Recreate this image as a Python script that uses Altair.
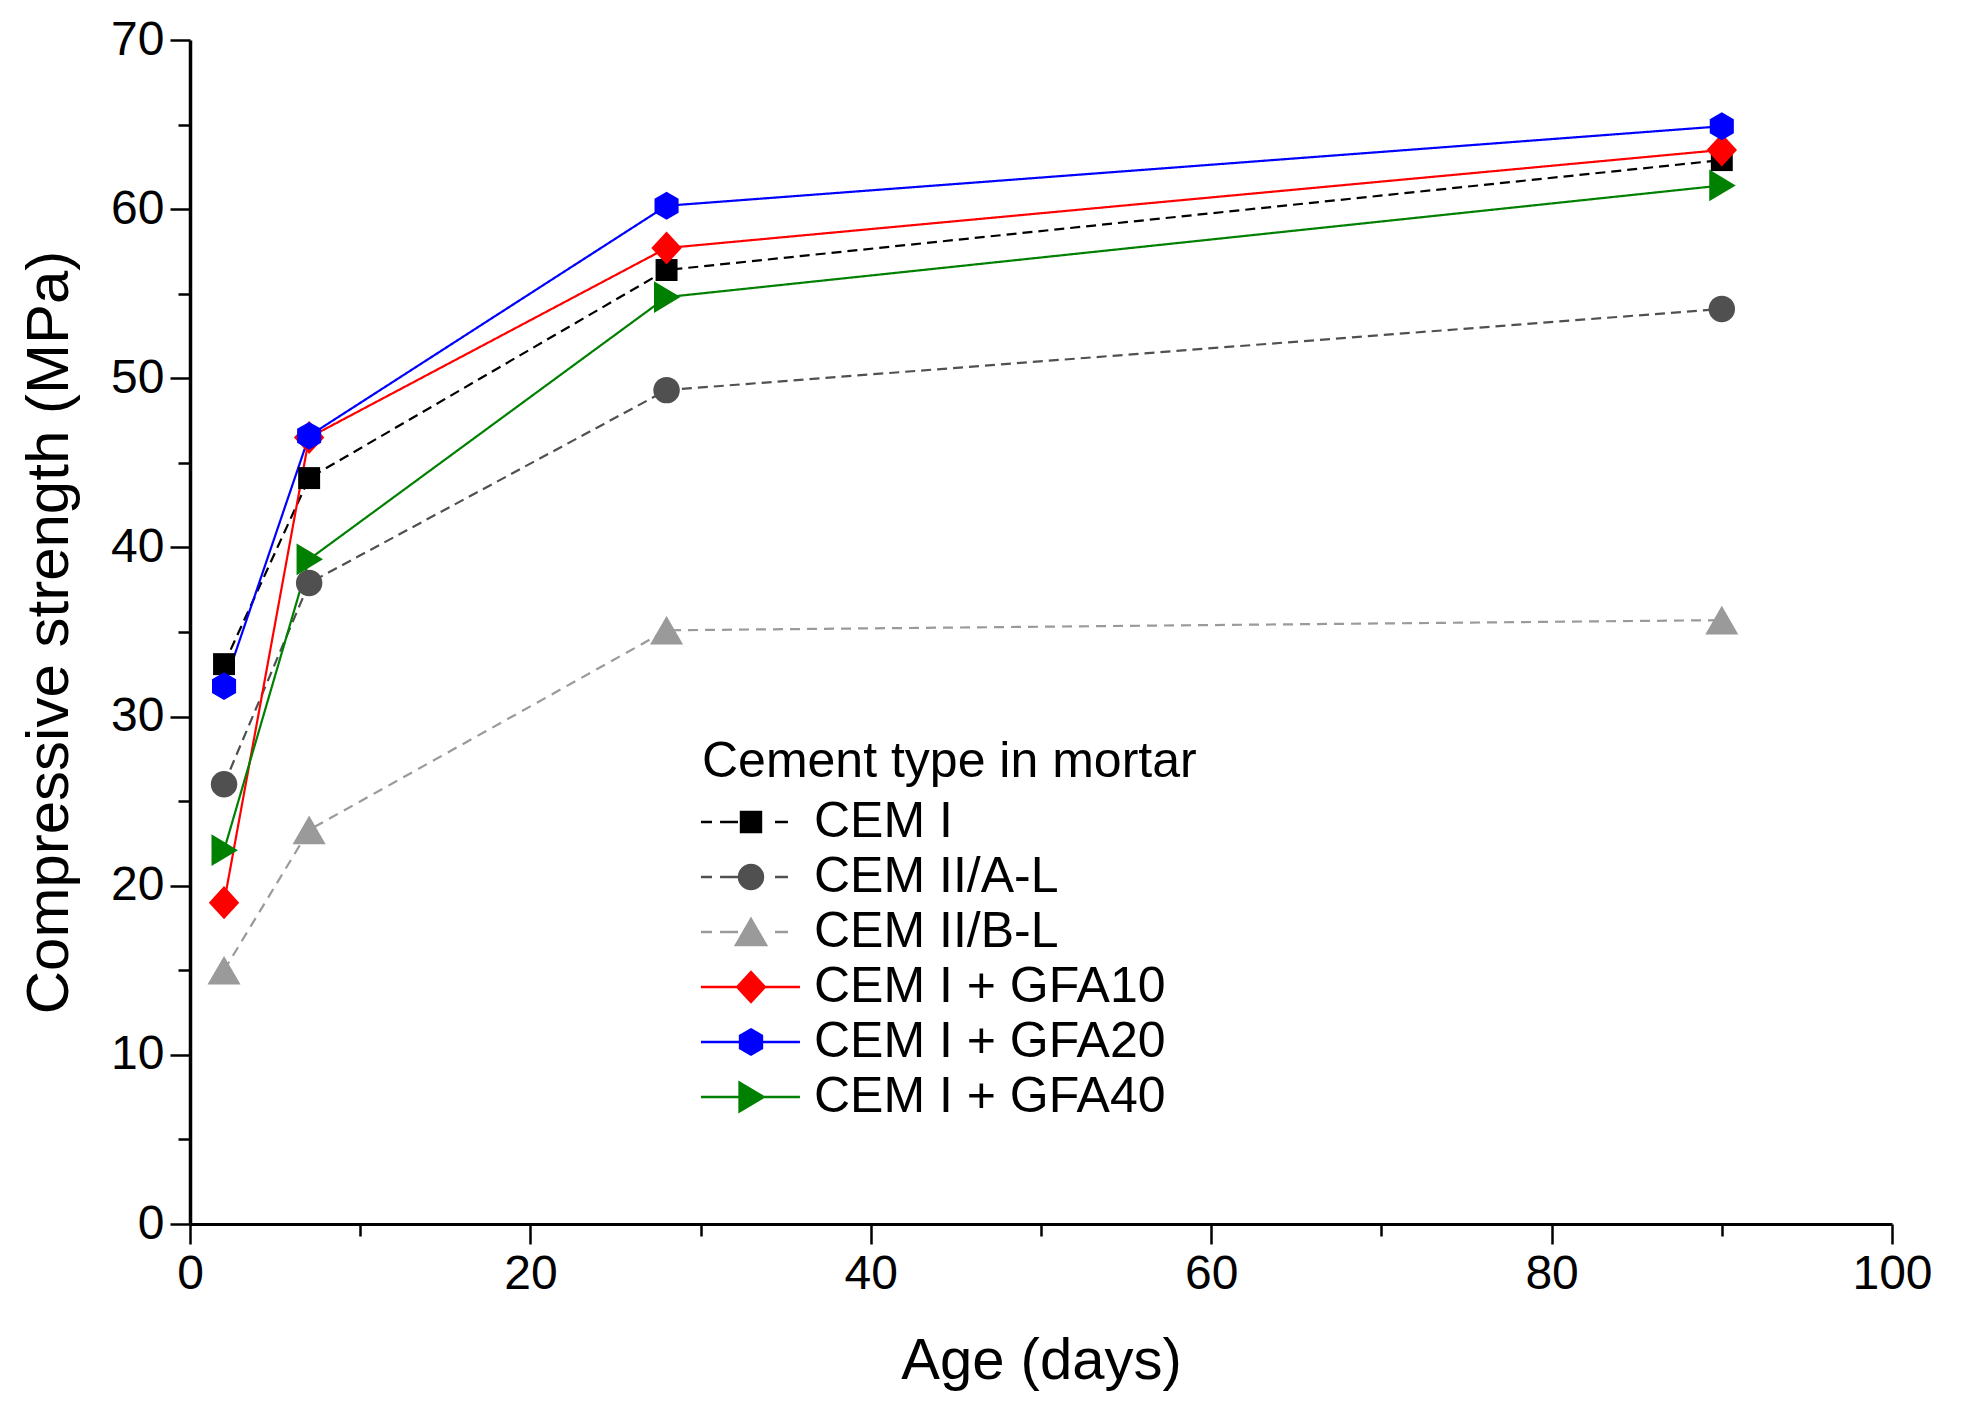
import altair as alt
import pandas as pd

# ---- data ----
ages = [2, 7, 28, 90]
series_names = ["CEM I", "CEM II/A-L", "CEM II/B-L",
                "CEM I + GFA10", "CEM I + GFA20", "CEM I + GFA40"]
cem_i = [33.1, 44.1, 56.4, 62.9]
cem_ii_a = [26.0, 37.9, 49.3, 54.1]
cem_ii_b = [15.0, 23.3, 35.1, 35.7]
gfa10 = [19.0, 46.5, 57.7, 63.5]
gfa20 = [31.8, 46.6, 60.2, 64.9]
gfa40 = [22.1, 39.3, 54.8, 61.4]
values_by_series = [cem_i, cem_ii_a, cem_ii_b, gfa10, gfa20, gfa40]

x_major = [0, 20, 40, 60, 80, 100]
x_minor = [10, 30, 50, 70, 90]
y_major = [0, 10, 20, 30, 40, 50, 60, 70]
y_minor = [5, 15, 25, 35, 45, 55, 65]

# ---- styles ----
FONT = "Liberation Sans"
colors = ["#000000", "#505050", "#9a9a9a", "#ff0000", "#0000ff", "#008000"]
dashes = [[10, 6], [10, 6], [10, 7], [1, 0], [1, 0], [1, 0]]

sq = "M-0.83,-0.83L0.83,-0.83L0.83,0.83L-0.83,0.83Z"
ci = "M1,0A1,1 0 1,1 -1,0A1,1 0 1,1 1,0Z"
tu = "M0,-1.08L1.25,1.08L-1.25,1.08Z"
di = "M0,-1.25L1.15,0L0,1.25L-1.15,0Z"
hx = "M0,-1.05L0.91,-0.525L0.91,0.525L0,1.05L-0.91,0.525L-0.91,-0.525Z"
tr = "M1.05,0L-0.95,-1.2L-0.95,1.2Z"
marker_paths = [sq, ci, tu, di, hx, tr]
dashed_seg = "M-4.17,0L-3.25,0M-2.58,0L-1.08,0M2,0L3.08,0"
solid_seg = "M-4.17,0L4.08,0"
legend_paths = [dashed_seg + sq, dashed_seg + ci, dashed_seg + tu,
                solid_seg + di, solid_seg + hx, solid_seg + tr]

rows = []
for name, vals in zip(series_names, values_by_series):
    for a, v in zip(ages, vals):
        rows.append({"series": name, "age": a, "strength": v})
df = pd.DataFrame(rows)

xs = alt.Scale(domain=[0, 100], nice=False, zero=False)
ys = alt.Scale(domain=[0, 70], nice=False)
color_scale = alt.Scale(domain=series_names, range=colors)

x_axis = alt.Axis(values=x_major, orient="bottom", tickSize=20, tickWidth=2.5,
                  tickColor="black", domainColor="black", domainWidth=3,
                  labelFontSize=48, labelFont=FONT, labelColor="black",
                  labelPadding=6, labelFlush=False, grid=False,
                  title="Age (days)", titleFont=FONT, titleFontSize=58,
                  titleFontWeight="normal", titleColor="black", titlePadding=34)
y_axis = alt.Axis(values=y_major, orient="left", tickSize=20, tickWidth=2.5,
                  tickColor="black", domainColor="black", domainWidth=3.5,
                  labelFontSize=48, labelFont=FONT, labelColor="black",
                  labelPadding=6, labelFlush=False, grid=False,
                  title="Compressive strength (MPa)", titleFont=FONT,
                  titleFontSize=60, titleFontWeight="normal",
                  titleColor="black", titlePadding=30)
x_minor_axis = alt.Axis(values=x_minor, orient="bottom", tickSize=12,
                        tickWidth=2.5, tickColor="black", labels=False,
                        domain=False, grid=False, title=None)
y_minor_axis = alt.Axis(values=y_minor, orient="left", tickSize=12,
                        tickWidth=2.5, tickColor="black", labels=False,
                        domain=False, grid=False, title=None)

leg = dict(orient="none", legendX=512, legendY=697,
           title="Cement type in mortar", titleFont=FONT, titleFontSize=50,
           titleFontWeight="normal", titleColor="black", titleLimit=2000,
           labelFont=FONT, labelFontSize=50, labelColor="black",
           labelLimit=2000, symbolSize=576, symbolStrokeWidth=2.5,
           symbolOffset=24, labelOffset=38, rowPadding=5, titlePadding=10,
           padding=0)

base = alt.Chart(df)

lines = base.mark_line(strokeWidth=2.2).encode(
    x=alt.X("age:Q", scale=xs, axis=x_axis),
    y=alt.Y("strength:Q", scale=ys, axis=y_axis),
    color=alt.Color("series:N", scale=color_scale, legend=None),
    strokeDash=alt.StrokeDash("series:N",
                              scale=alt.Scale(domain=series_names, range=dashes),
                              legend=None),
)

points = base.mark_point(filled=True, size=700, opacity=1).encode(
    x=alt.X("age:Q", scale=xs, axis=None),
    y=alt.Y("strength:Q", scale=ys, axis=None),
    color=alt.Color("series:N", scale=color_scale, legend=None),
    shape=alt.Shape("series:N",
                    scale=alt.Scale(domain=series_names, range=marker_paths),
                    legend=None),
)

legend_layer = base.transform_filter("false").mark_point(
    filled=True, size=576, opacity=1).encode(
    x=alt.X("age:Q", scale=xs, axis=None),
    y=alt.Y("strength:Q", scale=ys, axis=None),
    fill=alt.Fill("series:N", scale=alt.Scale(domain=series_names, range=colors),
                  legend=alt.Legend(**leg)),
    stroke=alt.Stroke("series:N", scale=alt.Scale(domain=series_names, range=colors),
                      legend=alt.Legend(**leg)),
    shape=alt.Shape("series:N",
                    scale=alt.Scale(domain=series_names, range=legend_paths),
                    legend=alt.Legend(**leg)),
)

minor = base.transform_filter("false").mark_point().encode(
    x=alt.X("age:Q", scale=xs, axis=x_minor_axis),
    y=alt.Y("strength:Q", scale=ys, axis=y_minor_axis),
)

chart = alt.layer(lines, points, legend_layer, minor).resolve_scale(
    shape="independent", fill="independent", stroke="independent"
).resolve_axis(
    x="independent", y="independent"
).properties(
    width=1702, height=1184,
    autosize=alt.AutoSizeParams(type="none"),
    padding={"left": 182, "top": 32, "right": 60, "bottom": 175},
).configure_view(stroke=None)

chart.save("out.html", embed_options={"renderer": "svg", "actions": False})
